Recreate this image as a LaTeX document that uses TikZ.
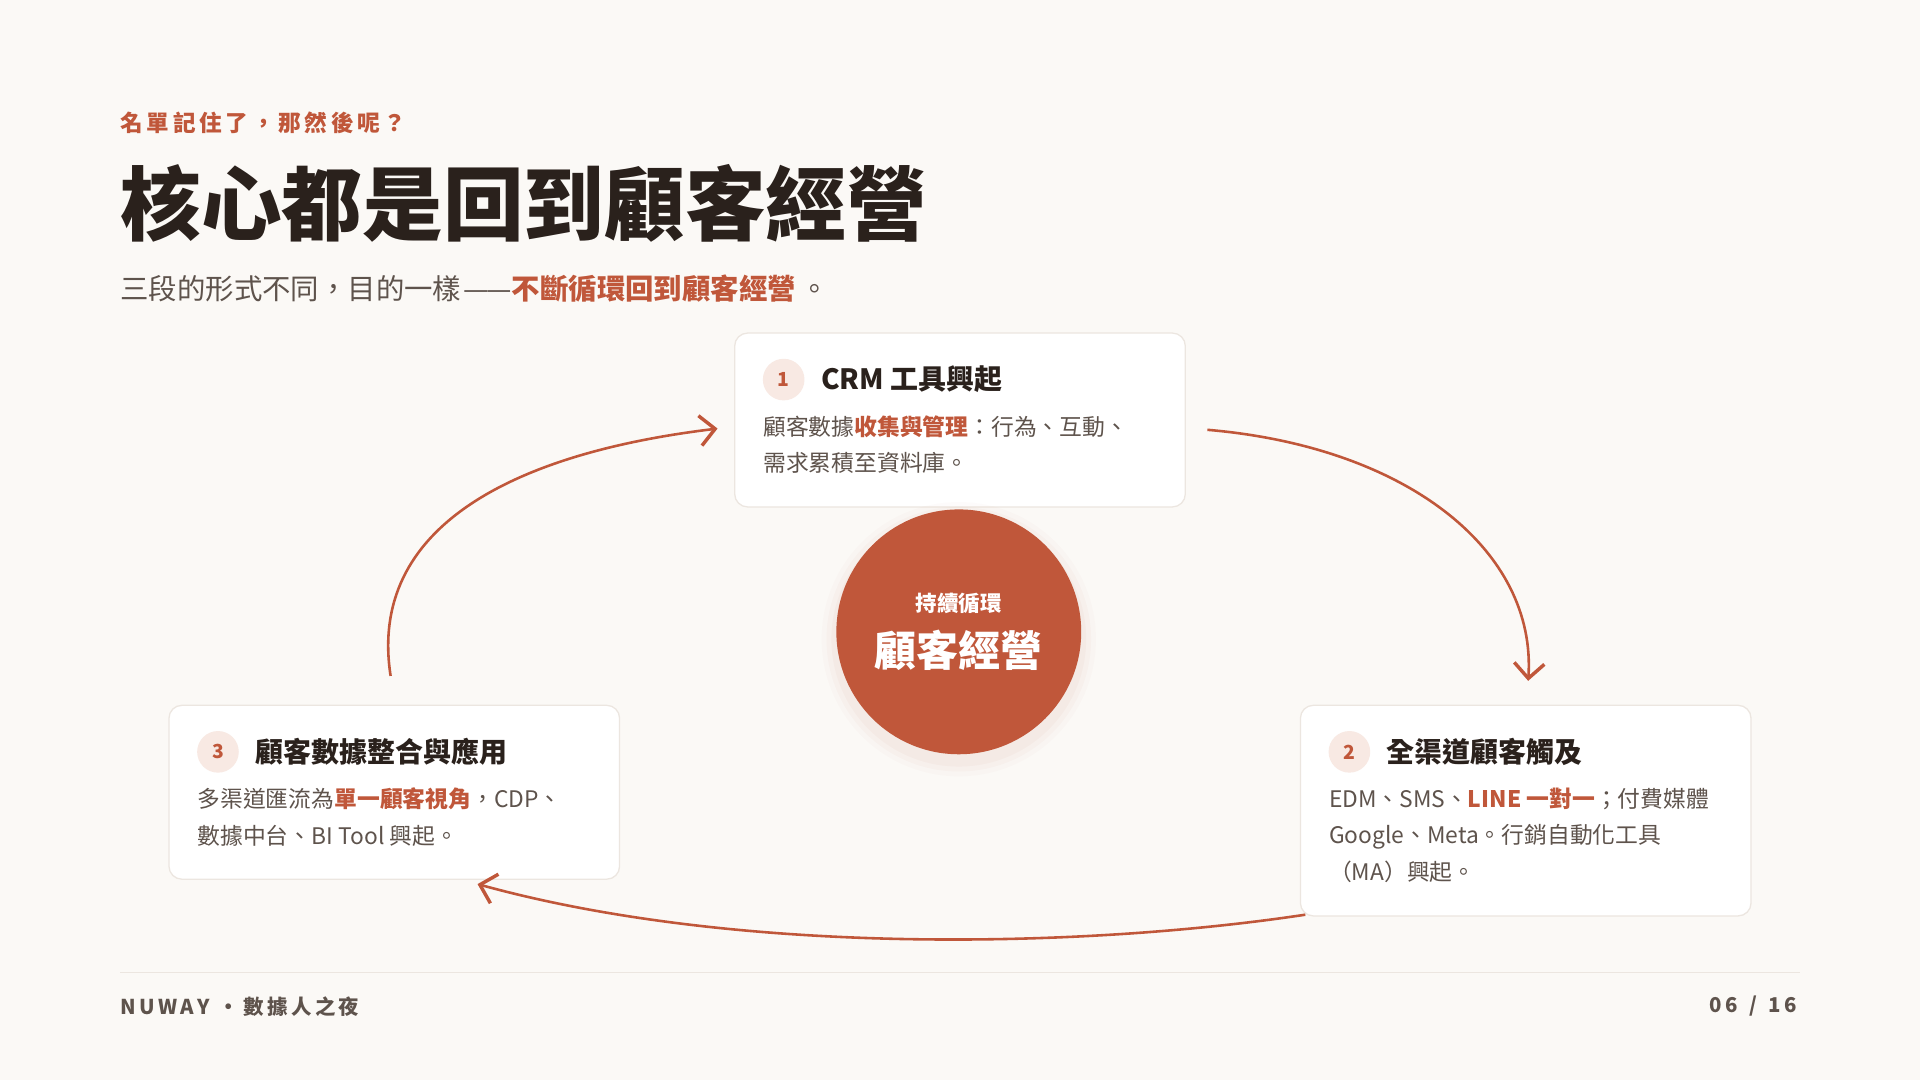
\documentclass[tikz,border=0pt]{standalone}
\usepackage{fontspec}
\setmainfont{Noto Sans CJK TC}
\usetikzlibrary{positioning,shadows,arrows.meta}
\definecolor{accent}{HTML}{C0573A}
\definecolor{paper}{HTML}{FBF9F6}
\definecolor{ink}{HTML}{2A211C}
\definecolor{soft}{HTML}{5E534C}
\definecolor{edge}{HTML}{ECE6E0}
\definecolor{badge}{HTML}{F8E9E3}
\tikzset{
  card/.style={draw=edge, fill=white, rounded corners=6pt, line width=0.6pt},
  num/.style={circle, fill=badge, text=accent, font=\fontsize{9}{9}\selectfont\bfseries, minimum size=0.68cm, inner sep=0pt},
  head/.style={anchor=west, text=ink, font=\fontsize{13}{14}\selectfont\bfseries},
  body/.style={anchor=north west, text=soft, align=left, font=\fontsize{10.6}{17}\selectfont, inner sep=0pt},
  loop/.style={draw=accent, line width=1.2pt, -{Straight Barb[length=7pt,width=14pt,line width=1.6pt]}},
}
\newcommand{\hl}[1]{\textcolor{accent}{\bfseries #1}}
\begin{document}
\begin{tikzpicture}[x=0.02cm,y=-0.02cm]
        \fill[paper] (0,0) rectangle (1568,882);
        \useasboundingbox (0,0) rectangle (1568,882);

        %Header
        \node[anchor=west, text=accent, font=\fontsize{10.5}{12}\selectfont\bfseries, inner sep=0pt] (kicker) at (98,100) {名\,單\,記\,住\,了\,，\,那\,然\,後\,呢\,？};
        \node[anchor=west, text=ink, font=\fontsize{37.5}{40}\selectfont\bfseries, inner sep=0pt] (title) at (98,166) {核心都是回到顧客經營};
        \node[anchor=west, text=soft, font=\fontsize{13.2}{14}\selectfont, inner sep=0pt] (sub) at (98,236) {三段的形式不同，目的一樣\kern1pt—\kern-1pt—\hl{不斷循環回到顧客經營}\kern2pt。};

        %Cards
        \draw[card] (600,272) rectangle (968,414);
        \node[num] (n1) at (640,310) {1};
        \node[head, right=4pt of n1] (h1) {CRM 工具興起};
        \node[body] (b1) at (623,339) {顧客數據\hl{收集與管理}：行為、互動、\\需求累積至資料庫。};

        \draw[card] (1062,576) rectangle (1430,748);
        \node[num] (n2) at (1102,614) {2};
        \node[head, right=4pt of n2] (h2) {全渠道顧客觸及};
        \node[body] (b2) at (1085,643) {EDM、SMS、\hl{LINE 一對一}；付費媒體\\Google、Meta。行銷自動化工具\\（MA）興起。};

        \draw[card] (138,576) rectangle (506,718);
        \node[num] (n3) at (178,614) {3};
        \node[head, right=4pt of n3] (h3) {顧客數據整合與應用};
        \node[body] (b3) at (161,643) {多渠道匯流為\hl{單一顧客視角}，CDP、\\數據中台、BI Tool 興起。};

        %Center
        \foreach \r/\o in {112/0.02,108/0.03,104/0.04}{
            \fill[accent, opacity=\o] (783,522) circle (\r*0.02cm);
        }
        \node[circle, fill=accent, minimum size=4cm] (hub) at (783,516) {};
        \node[text=white, font=\fontsize{10}{10}\selectfont\bfseries] (hubtop) at (783,493) {持續循環};
        \node[text=white, font=\fontsize{19.5}{20}\selectfont\bfseries] (hubmain) at (783,531) {顧客經營};

        %Loop
        \coordinate (a1) at (986,351);
        \coordinate (a2) at (1248,556);
        \coordinate (c1) at (1066,747);
        \coordinate (c2) at (390,722);
        \coordinate (d1) at (319,552);
        \coordinate (d2) at (586,350);
        \draw[loop] (a1) .. controls (1150,365) and (1255,450) .. (a2);
        \draw[loop] (c1) .. controls (880,775) and (600,780) .. (c2);
        \draw[loop] (d1) .. controls (300,430) and (420,370) .. (d2);

        %Footer
        \draw[edge, line width=0.6pt] (98,794) -- (1470,794);
        \node[anchor=west, text=soft, font=\fontsize{9.5}{11}\selectfont\bfseries, inner sep=0pt] (brand) at (98,822) {N\,U\,W\,A\,Y\, · 數\,據\,人\,之\,夜};
        \node[anchor=east, text=soft, font=\fontsize{9.5}{11}\selectfont\bfseries, inner sep=0pt] (page) at (1468,822) {0\,6\,\, /\,\, 1\,6};
\end{tikzpicture}
\end{document}
